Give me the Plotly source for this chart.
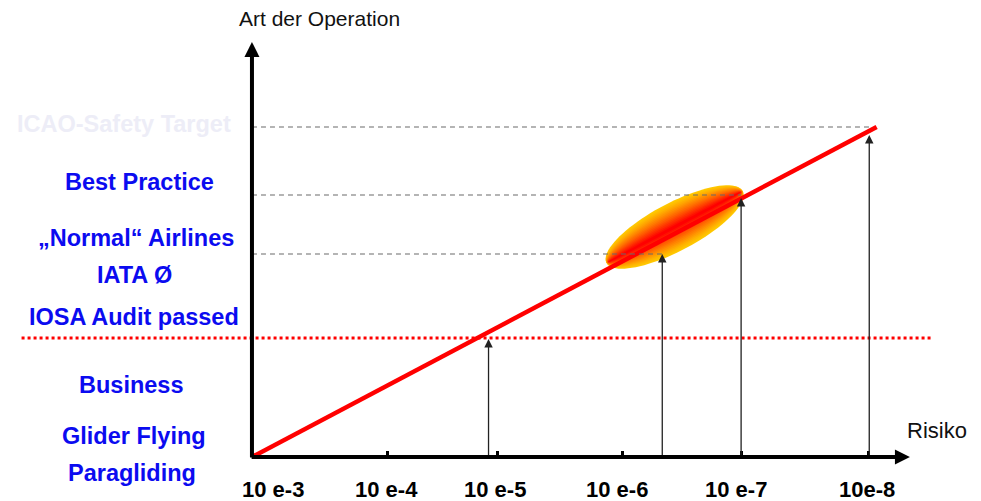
import numpy as np
import plotly.graph_objects as go

# --- data -----------------------------------------------------------------
# x axis: risk exponent (10 e-3 ... 10e-8), y axis: level of operation
risk_tick_text = ["10 e-3", "10 e-4", "10 e-5", "10 e-6", "10 e-7", "10e-8"]
risk_tick_pos = [3.0, 4.10, 4.99, 6.01, 6.97, 8.0]
risk_label_pos = [3.17, 4.09, 4.97, 5.96, 6.93, 7.99]

op_labels = [
    "ICAO-Safety Target",
    "Best Practice",
    "„Normal“ Airlines",
    "IATA Ø",
    "IOSA Audit passed",
    "Business",
    "Glider Flying",
    "Paragliding",
]
op_label_x = [1.96, 2.09, 2.06, 2.05, 2.04, 2.02, 2.04, 2.03]
op_label_y = [3.33, 2.75, 2.19, 1.82, 1.40, 0.72, 0.21, -0.16]
op_label_color = ["#EDEDF7"] + ["#0B0BF0"] * 7

# risk curve
risk_line_x = [3.0, 8.07]
risk_line_y = [0.0, 3.30]

# reference levels (dashed) and where they meet the curve
level_y = [3.30, 2.62, 2.03]
level_x_end = [8.02, 6.97, 6.33]

# IOSA threshold (red dotted)
iosa_y = 1.19
iosa_x = [1.13, 8.52]

# vertical arrows from the risk axis up to the curve
arrow_x = [4.92, 6.33, 6.97, 8.01]
arrow_tip_y = [1.18, 2.03, 2.59, 3.22]

# highlighted band on the curve
band_center = (6.43, 2.30)
band_half_len_px = 77
band_half_wid_px = 24

X_RANGE = [0.955, 8.917]
Y_RANGE = [-0.44, 4.57]
PX_X = 981 / (X_RANGE[1] - X_RANGE[0])
PX_Y = 501 / (Y_RANGE[1] - Y_RANGE[0])

FONT = "Liberation Sans, Arial, sans-serif"

fig = go.Figure()

# gradient ellipse: nested ellipses, golden outside to red along the axis
angle = np.arctan2((risk_line_y[1] - risk_line_y[0]) * PX_Y,
                   (risk_line_x[1] - risk_line_x[0]) * PX_X)
t = np.linspace(0, 2 * np.pi, 90)
n_layers = 16
for i in range(n_layers):
    frac = 1 - i / n_layers
    mix = (i / (n_layers - 1)) ** 1.2
    g = int(round(200 * (1 - mix)))
    u = band_half_len_px * (0.97 + 0.03 * frac) * np.cos(t)
    v = band_half_wid_px * frac * np.sin(t)
    xs = band_center[0] + (u * np.cos(angle) - v * np.sin(angle)) / PX_X
    ys = band_center[1] + (u * np.sin(angle) + v * np.cos(angle)) / PX_Y
    path = "M " + " L ".join(f"{a:.4f},{b:.4f}" for a, b in zip(xs, ys)) + " Z"
    fig.add_shape(type="path", path=path, fillcolor=f"rgb(255,{g},0)",
                  line=dict(width=0), layer="below")

# dashed reference levels
for yv, xe in zip(level_y, level_x_end):
    fig.add_shape(type="line", x0=risk_line_x[0], x1=xe, y0=yv, y1=yv,
                  line=dict(color="#6a6a6a", width=1.2, dash="5px,4px"))

# IOSA dotted line
fig.add_shape(type="line", x0=iosa_x[0], x1=iosa_x[1], y0=iosa_y, y1=iosa_y,
              line=dict(color="#FF0000", width=3, dash="dot"))

# risk curve
fig.add_trace(go.Scatter(
    x=risk_line_x, y=risk_line_y, mode="lines",
    line=dict(color="#FF0000", width=4.5),
    hoverinfo="skip", showlegend=False,
))

# thin vertical arrows
for xa, ya in zip(arrow_x, arrow_tip_y):
    fig.add_annotation(x=xa, y=ya, ax=xa, ay=0, xref="x", yref="y",
                       axref="x", ayref="y", text="", showarrow=True,
                       arrowhead=2, arrowwidth=1.3, arrowsize=1.3,
                       arrowcolor="#222222", standoff=0)

# main axes with arrows
fig.add_annotation(x=risk_line_x[0], y=4.15, ax=risk_line_x[0], ay=-0.02,
                   xref="x", yref="y", axref="x", ayref="y", text="",
                   showarrow=True, arrowhead=2, arrowwidth=4, arrowsize=0.75,
                   arrowcolor="black", standoff=0)
fig.add_annotation(x=8.34, y=0, ax=risk_line_x[0] - 0.015, ay=0,
                   xref="x", yref="y", axref="x", ayref="y", text="",
                   showarrow=True, arrowhead=2, arrowwidth=4, arrowsize=0.75,
                   arrowcolor="black", standoff=0)

# operation labels on the left
for txt, xv, yv, col in zip(op_labels, op_label_x, op_label_y, op_label_color):
    fig.add_annotation(x=xv, y=yv, xref="x", yref="y", text=txt,
                       showarrow=False, xanchor="center", yanchor="middle",
                       font=dict(family=FONT, size=23.5, color=col, weight="bold"))

# risk tick labels
for txt, xv in zip(risk_tick_text, risk_label_pos):
    fig.add_annotation(x=xv, y=-0.32, xref="x", yref="y", text=txt,
                       showarrow=False, xanchor="center", yanchor="middle",
                       font=dict(family=FONT, size=22, color="black", weight="bold"))

# axis titles
fig.add_annotation(x=2.88, y=4.39, xref="x", yref="y", text="Art der Operation",
                   showarrow=False, xanchor="left", yanchor="middle",
                   font=dict(family=FONT, size=21, color="#111111"))
fig.add_annotation(x=8.56, y=0.27, xref="x", yref="y", text="Risiko",
                   showarrow=False, xanchor="center", yanchor="middle",
                   font=dict(family=FONT, size=22, color="#111111"))

fig.update_layout(
    width=981, height=501,
    margin=dict(l=0, r=0, t=0, b=0, pad=0),
    paper_bgcolor="white", plot_bgcolor="white",
    showlegend=False,
)
fig.update_xaxes(
    range=X_RANGE, showgrid=False, zeroline=False, showline=False,
    tickmode="array", tickvals=risk_tick_pos[1:], ticks="inside",
    ticklen=6, tickwidth=3, tickcolor="black", showticklabels=False,
    anchor="free", position=(0 - Y_RANGE[0]) / (Y_RANGE[1] - Y_RANGE[0]),
    fixedrange=True,
)
fig.update_yaxes(range=Y_RANGE, visible=False, fixedrange=True)

fig.write_html(
    "out.html",
    config={"displayModeBar": False},
    post_script="document.body.style.margin='0';",
)
